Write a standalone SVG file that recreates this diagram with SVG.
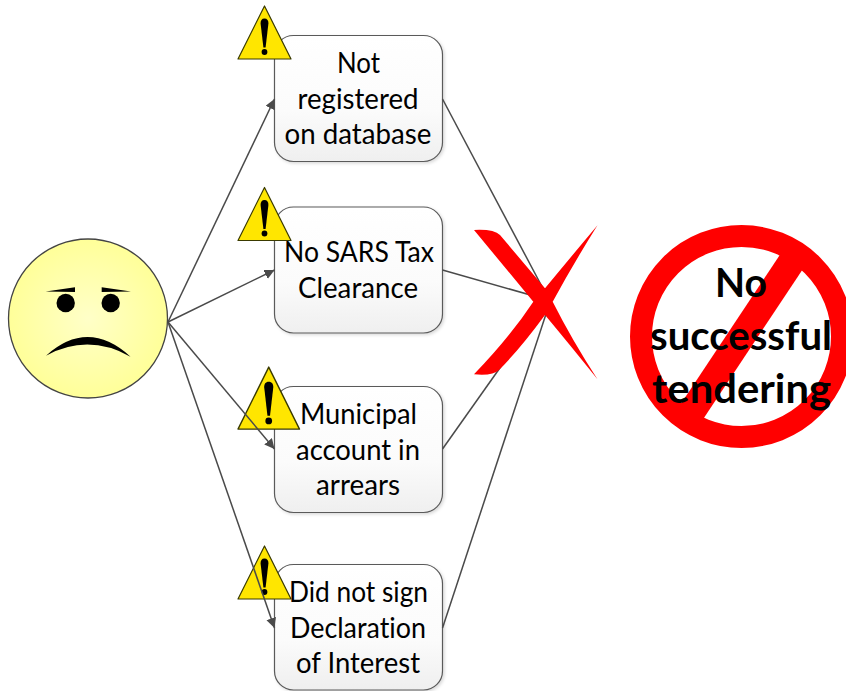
<svg xmlns="http://www.w3.org/2000/svg" width="846" height="691" viewBox="0 0 846 691">
<style>
.box{fill:url(#boxG);stroke:#5a5a5a;stroke-width:1.2;filter:url(#sh)}
.lbl{font-family:"Lato","Carlito","Open Sans",sans-serif;font-size:29px;fill:#000;text-anchor:middle;font-variant-ligatures:none}
.big{font-family:"Lato","Carlito","Open Sans",sans-serif;font-size:40px;font-weight:700;fill:#000;text-anchor:middle;font-variant-ligatures:none}
.c{fill:none;stroke:#4a4a4a;stroke-width:1.5}
.a{marker-end:url(#arr)}
</style>
<defs>
<linearGradient id="boxG" x1="0" y1="0" x2="0" y2="1"><stop offset="0" stop-color="#ffffff"/><stop offset="0.6" stop-color="#fbfbfb"/><stop offset="1" stop-color="#efefef"/></linearGradient>
<radialGradient id="faceG" cx="0.5" cy="0.5" r="0.5"><stop offset="0" stop-color="#ffffc8"/><stop offset="1" stop-color="#ffff99"/></radialGradient>
<filter id="sh" x="-10%" y="-10%" width="125%" height="125%"><feDropShadow dx="1.5" dy="1.5" stdDeviation="1.5" flood-color="#000" flood-opacity="0.15"/></filter>
<marker id="arr" markerUnits="userSpaceOnUse" markerWidth="12" markerHeight="12" refX="10" refY="5" orient="auto"><path d="M0,0L10,5L0,10Z" fill="#4a4a4a"/></marker>
<g id="warn">
<path d="M26.500,0.500L53,53.500L0,53.500Z" fill="#ffe600" stroke="#3a3a00" stroke-width="1.200" stroke-linejoin="round"/>
<path d="M26.500,13C23.800,13 22.400,15 22.600,18L25.400,42L27.600,42L30.400,18C30.600,15 29.200,13 26.500,13Z" fill="#000"/>
<circle cx="26.500" cy="46.500" r="2.900" fill="#000"/>
</g>
</defs>
<rect width="846" height="691" fill="#fff"/>
<g id="node-face">
<circle cx="88" cy="318.500" r="79.500" fill="url(#faceG)" stroke="#444" stroke-width="1.300"/>
<circle cx="65.700" cy="303" r="9.200" fill="#000"/>
<circle cx="110.700" cy="303" r="9.200" fill="#000"/>
<path d="M45.700,291.500L75,287.300V292Z" fill="#000"/>
<path d="M131,291.500L101.700,287.300V292Z" fill="#000"/>
<path d="M46,355.700Q88,318 130.500,356.700Q88,333 46,355.700Z" fill="#000"/>
</g>
<g id="node-database">
<rect class="box" x="274.500" y="35.500" width="168" height="126" rx="19"/>
<text class="lbl" x="358.500" y="72.500" textLength="43" lengthAdjust="spacingAndGlyphs">Not</text>
<text class="lbl" x="358" y="108.500" textLength="121" lengthAdjust="spacingAndGlyphs">registered</text>
<text class="lbl" x="358" y="143.500" textLength="147" lengthAdjust="spacingAndGlyphs">on database</text>
</g>
<g id="node-sars">
<rect class="box" x="274.500" y="207" width="168" height="126" rx="19"/>
<text class="lbl" x="359" y="261.500" textLength="150" lengthAdjust="spacingAndGlyphs">No SARS Tax</text>
<text class="lbl" x="358" y="297.500" textLength="120" lengthAdjust="spacingAndGlyphs">Clearance</text>
</g>
<g id="node-municipal">
<rect class="box" x="274.500" y="386.500" width="168" height="126" rx="19"/>
<text class="lbl" x="358.500" y="423.500" textLength="117" lengthAdjust="spacingAndGlyphs">Municipal</text>
<text class="lbl" x="358" y="459.500" textLength="124" lengthAdjust="spacingAndGlyphs">account in</text>
<text class="lbl" x="358" y="494.500" textLength="84" lengthAdjust="spacingAndGlyphs">arrears</text>
</g>
<g id="node-declaration">
<rect class="box" x="274.500" y="564.500" width="168" height="125.500" rx="19"/>
<text class="lbl" x="358.500" y="601.500" textLength="139" lengthAdjust="spacingAndGlyphs">Did not sign</text>
<text class="lbl" x="358" y="637.500" textLength="136" lengthAdjust="spacingAndGlyphs">Declaration</text>
<text class="lbl" x="358" y="672.500" textLength="124" lengthAdjust="spacingAndGlyphs">of Interest</text>
</g>
<g id="warning-1"><use href="#warn" transform="translate(238,5.500)"/></g>
<g id="warning-2"><use href="#warn" transform="translate(238,187)"/></g>
<g id="warning-3"><use href="#warn" transform="translate(238,366.500) scale(1.16,1.17)"/></g>
<g id="warning-4"><use href="#warn" transform="translate(238,545.500)"/></g>
<g id="connectors">
<path class="c a" d="M168,322L274.500,99"/>
<path class="c a" d="M168,322L274.500,270"/>
<path class="c a" d="M168,322L274.500,449"/>
<path class="c a" d="M168,322L274.500,628"/>
<path class="c" d="M442.500,99L548,298"/>
<path class="c" d="M442.500,270L548,300"/>
<path class="c" d="M442.500,449L548,300"/>
<path class="c" d="M442.500,628L548,308"/>
</g>
<g id="node-cross">
<path d="M474,230Q494,229 500,235L545,288.300Q570,258 597.500,225.300Q572,266 552.700,301.700Q572,340 597.500,379.300Q570,345 545,315Q520,349 499,370Q493,376 474,374.300Q510,337 533.300,301.700L474,230Z" fill="#f00"/>
</g>
<g id="node-tendering">
<circle cx="741.500" cy="336.500" r="100.500" fill="#fff" stroke="#f00" stroke-width="22"/>
<path d="M797,253.500L686,420.500" stroke="#f00" stroke-width="27" fill="none"/>
<text class="big" x="741" y="297" textLength="52" lengthAdjust="spacingAndGlyphs">No</text>
<text class="big" x="741" y="350" textLength="182" lengthAdjust="spacingAndGlyphs">successful</text>
<text class="big" x="741.500" y="403" textLength="179" lengthAdjust="spacingAndGlyphs">tendering</text>
</g>
</svg>
